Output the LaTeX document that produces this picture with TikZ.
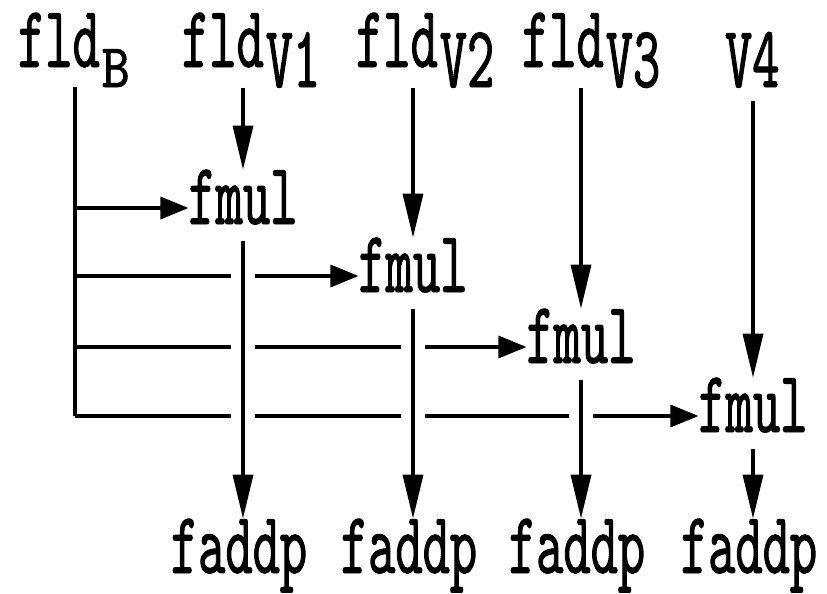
\documentclass[tikz,border=0pt]{standalone}
\usepackage{fontspec}
\usetikzlibrary{arrows.meta,calc}
\newfontfamily\diafont[FakeStretch=0.59,FakeBold=1.0]{lmmono10-regular.otf}
\newcommand\dsub[1]{\kern2pt\lower20pt\hbox{#1}}
\newcommand\dsubB{\kern2pt\lower20pt\hbox{\scalebox{1.45}[1]{\fontsize{62}{62}\selectfont B}}}
\begin{document}
\begin{tikzpicture}[x=1pt,y=-1pt,
  lbl/.style={inner sep=0pt, outer sep=0pt, font=\fontsize{88}{88}\diafont},
  ln/.style={line width=3.4pt},
  harr/.style={ln, -{Triangle[length=28pt,width=22pt]}},
  varr/.style={ln, -{Triangle[length=44pt,width=20pt]}},
  gap/.style={preaction={draw=white, line width=24pt, arrows=-, shorten <=20pt, shorten >=60pt}}]
\fill[white] (0,0) rectangle (827,594);
\useasboundingbox (0,0) rectangle (827,594);
% top labels
\node[lbl, anchor=base west] (fldB) at (18,67) {fld\dsubB};
\node[lbl, anchor=base west] (fld1) at (182,67) {fld\dsub{V1}};
\node[lbl, anchor=base west] (fld2) at (356,67) {fld\dsub{V2}};
\node[lbl, anchor=base west] (fld3) at (522,67) {fld\dsub{V3}};
\node[lbl, anchor=base west] (v4) at (725,87) {V4};
% fmul
\node[lbl, anchor=base] (m1) at (243,224) {fmul};
\node[lbl, anchor=base] (m2) at (413,292) {fmul};
\node[lbl, anchor=base] (m3) at (581,363) {fmul};
\node[lbl, anchor=base] (m4) at (753,432) {fmul};
% faddp
\node[lbl, anchor=base] (a1) at (239,573) {faddp};
\node[lbl, anchor=base] (a2) at (409,573) {faddp};
\node[lbl, anchor=base] (a3) at (577,573) {faddp};
\node[lbl, anchor=base] (a4) at (749,573) {faddp};
% coordinates
\coordinate (bc) at (75,416);
\coordinate (h1) at ($(m1.base west)+(0pt,16pt)$);
\coordinate (h2) at ($(m2.base west)+(0pt,16pt)$);
\coordinate (h3) at ($(m3.base west)+(0pt,16pt)$);
\coordinate (h4) at ($(m4.base west)+(0pt,16pt)$);
% B line and branches
\draw[ln] (bc |- fldB.south) -- (bc);
\draw[harr] (bc |- h1) -- (h1);
\draw[harr] (bc |- h2) -- (h2);
\draw[harr] (bc |- h3) -- (h3);
\draw[harr] (bc |- h4) -- (h4);
% top verticals
\draw[varr] (m1 |- fld1.south) -- (m1.north);
\draw[varr] (m2 |- fld2.south) -- (m2.north);
\draw[varr] (m3 |- fld3.south) -- (m3.north);
\draw[varr, shorten <=13pt] (m4 |- v4.south) -- (m4.north);
% bottom verticals
\draw[varr, gap, shorten <=16pt] (m1.south) -- (m1 |- a1.north);
\draw[varr, gap, shorten <=16pt] (m2.south) -- (m2 |- a2.north);
\draw[varr, gap, shorten <=16pt] (m3.south) -- (m3 |- a3.north);
\draw[varr, shorten <=16pt] (m4.south) -- (m4 |- a4.north);
\end{tikzpicture}
\end{document}
